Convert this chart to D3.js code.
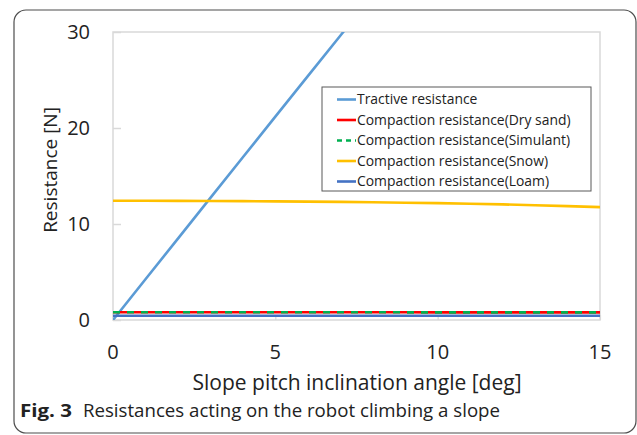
<!DOCTYPE html>
<html><head><meta charset="utf-8">
<script src="https://cdn.jsdelivr.net/npm/d3@7"></script>
<style>body{margin:0;background:#fff}svg{display:block}</style>
</head><body>
<svg id="c" width="637" height="435"></svg>
<script>
const angles = [0,1,2,3,4,5,6,7,8,9,10,11,12,13,14,15];
const tractive = [0,4.24,8.48,12.72,16.95,21.18,25.40,29.61,33.82,38.01,42.20,46.37,50.52,54.66,58.79,62.89];
const drySand  = [0.80,0.80,0.80,0.80,0.80,0.80,0.80,0.80,0.80,0.80,0.79,0.79,0.79,0.79,0.79,0.79];
const simulant = [0.80,0.80,0.80,0.80,0.80,0.80,0.80,0.80,0.80,0.80,0.79,0.79,0.79,0.79,0.79,0.79];
const snow     = [12.42,12.42,12.41,12.40,12.38,12.36,12.33,12.30,12.26,12.22,12.17,12.11,12.04,11.96,11.86,11.76];
const loam     = [0.45,0.45,0.45,0.45,0.45,0.45,0.45,0.45,0.45,0.45,0.45,0.45,0.45,0.45,0.45,0.45];
const seriesNames = ["Tractive resistance","Compaction resistance(Dry sand)","Compaction resistance(Simulant)","Compaction resistance(Snow)","Compaction resistance(Loam)"];
const xTicks = [0,5,10,15];
const yTicks = [0,10,20,30];

const series = [
  {name: seriesNames[0], values: tractive, color: "#5B9BD5", dash: null},
  {name: seriesNames[4], values: loam, color: "#4472C4", dash: null},
  {name: seriesNames[1], values: drySand, color: "#FF0000", dash: null},
  {name: seriesNames[2], values: simulant, color: "#00B050", dash: "7,7"},
  {name: seriesNames[3], values: snow, color: "#FFC000", dash: null}
];

const svg = d3.select("#c");
const L = 113, R = 600, T = 32, B = 320;
const x = d3.scaleLinear().domain([0,15]).range([L,R]);
const y = d3.scaleLinear().domain([0,30]).range([B,T]);

svg.append("rect").attr("x",14).attr("y",10).attr("width",622).attr("height",423)
  .attr("rx",12).attr("fill","none").attr("stroke","#4d4d4d").attr("stroke-width",1.2);

svg.append("clipPath").attr("id","clip").append("rect")
  .attr("x",L).attr("y",T).attr("width",R-L).attr("height",B-T);

svg.append("rect").attr("x",L).attr("y",T).attr("width",R-L).attr("height",B-T)
  .attr("fill","none").attr("stroke","#d9d9d9").attr("stroke-width",1.5);

const yAx = svg.append("g").attr("transform",`translate(${L},0)`)
  .call(d3.axisRight(y).tickValues(yTicks).tickSize(8).tickFormat(""));
yAx.select(".domain").remove();
yAx.selectAll("line").attr("stroke","#d9d9d9").attr("stroke-width",1.5);
const xAx = svg.append("g").attr("transform",`translate(0,${B})`)
  .call(d3.axisTop(x).tickValues(xTicks).tickSize(5).tickFormat(""));
xAx.select(".domain").remove();
xAx.selectAll("line").attr("stroke","#d9d9d9").attr("stroke-width",1.2);

const tf = "'Open Sans', sans-serif";
svg.append("g").selectAll("text").data(yTicks).join("text")
  .attr("x",90).attr("y",d=>y(d)).attr("dy","0.35em").attr("text-anchor","end")
  .attr("font-family",tf).attr("font-size",20).attr("fill","#222").text(d=>d);
svg.append("g").selectAll("text").data(xTicks).join("text")
  .attr("x",d=>x(d)).attr("y",352).attr("dy","0.35em").attr("text-anchor","middle")
  .attr("font-family",tf).attr("font-size",20).attr("fill","#222").text(d=>d);

svg.append("text").attr("transform","translate(50,170) rotate(-90)").attr("text-anchor","middle")
  .attr("dy","0.35em").attr("font-family",tf).attr("font-size",19).attr("fill","#222").text("Resistance [N]");
svg.append("text").attr("x",357).attr("y",383).attr("dy","0.35em").attr("text-anchor","middle")
  .attr("font-family",tf).attr("font-size",21).attr("fill","#222").text("Slope pitch inclination angle [deg]");

const line = d3.line().x((d,i)=>x(angles[i])).y(d=>y(d));
const g = svg.append("g").attr("clip-path","url(#clip)");
series.forEach(s=>{
  g.append("path").attr("d",line(s.values)).attr("fill","none")
    .attr("stroke",s.color).attr("stroke-width",2.6)
    .attr("stroke-dasharray",s.dash);
});

const lg = svg.append("g");
lg.append("rect").attr("x",322).attr("y",87).attr("width",269).attr("height",104)
  .attr("fill","#fff").attr("stroke","#595959").attr("stroke-width",1);
const byName = {}; series.forEach(s=>byName[s.name]=s);
seriesNames.forEach((n,i)=>{
  const s = byName[n];
  const yy = 99.5 + i*20.5;
  lg.append("line").attr("x1",337).attr("x2",356).attr("y1",yy).attr("y2",yy)
    .attr("stroke",s.color).attr("stroke-width",2.6)
    .attr("stroke-dasharray", s.dash ? "5,4" : null);
  lg.append("text").attr("x",357).attr("y",yy).attr("dy","0.35em")
    .attr("font-family","'Open Sans', sans-serif").attr("font-size",13.9).attr("fill","#222").text(n);
});

const f1 = svg.append("text").attr("x",20).attr("y",411).attr("dy","0.35em")
  .attr("font-family","'Open Sans', sans-serif").attr("font-size",18).attr("font-weight","bold")
  .attr("fill","#222").attr("textLength",52).attr("lengthAdjust","spacingAndGlyphs").text("Fig. 3");
svg.append("text").attr("x",83).attr("y",411).attr("dy","0.35em")
  .attr("font-family","'Open Sans', sans-serif").attr("font-size",18).attr("fill","#222")
  .attr("textLength",417).attr("lengthAdjust","spacingAndGlyphs")
  .text("Resistances acting on the robot climbing a slope");
</script>
</body></html>
